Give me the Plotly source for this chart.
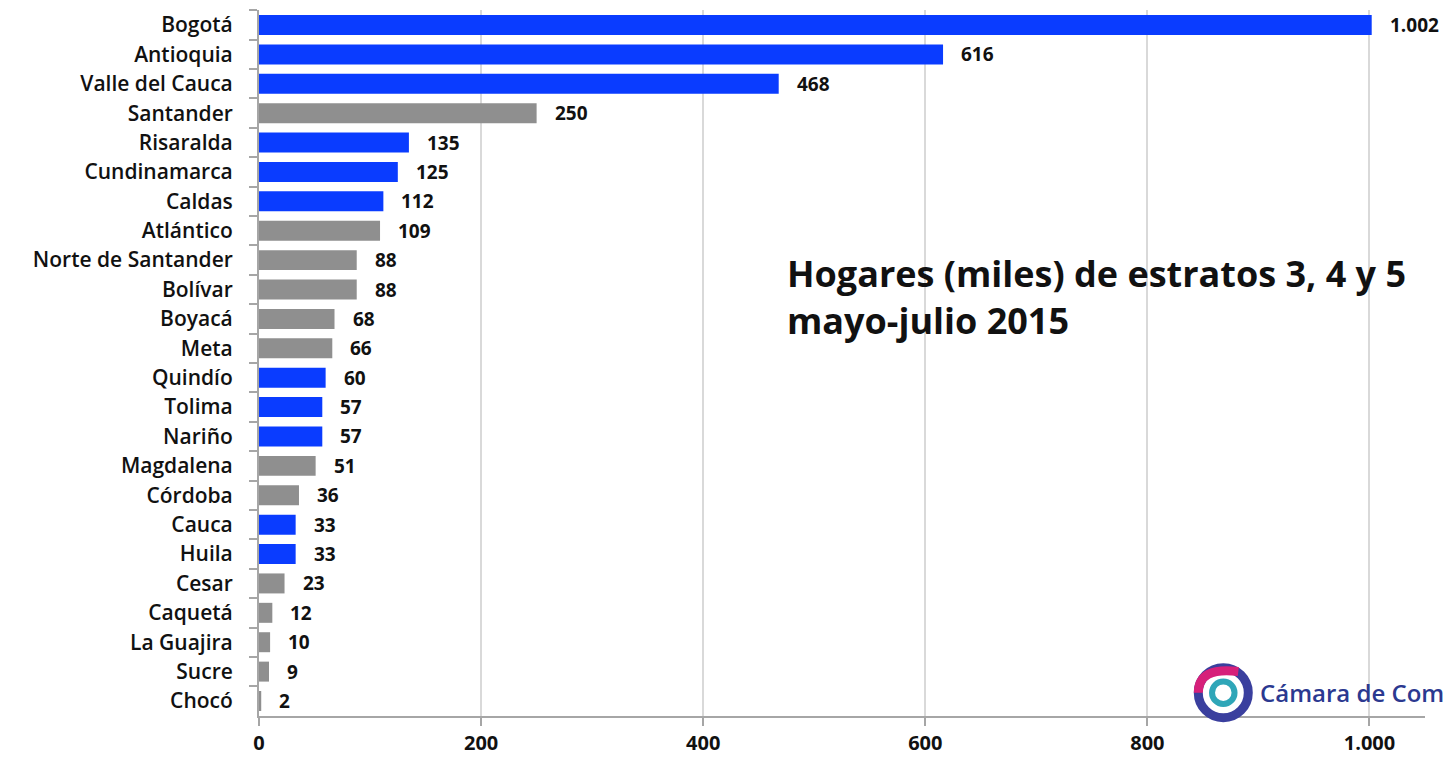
import plotly.graph_objects as go

# Hogares (miles) de estratos 3, 4 y 5 por departamento, mayo-julio 2015
departamentos = ["Bogotá", "Antioquia", "Valle del Cauca", "Santander", "Risaralda",
                 "Cundinamarca", "Caldas", "Atlántico", "Norte de Santander", "Bolívar",
                 "Boyacá", "Meta", "Quindío", "Tolima", "Nariño", "Magdalena", "Córdoba",
                 "Cauca", "Huila", "Cesar", "Caquetá", "La Guajira", "Sucre", "Chocó"]
hogares = [1002, 616, 468, 250, 135, 125, 112, 109, 88, 88, 68, 66, 60, 57, 57,
           51, 36, 33, 33, 23, 12, 10, 9, 2]
destacado = [1, 1, 1, 0, 1, 1, 1, 0, 0, 0, 0, 0, 1, 1, 1, 0, 0, 1, 1, 0, 0, 0, 0, 0]
x_ticks = [0, 200, 400, 600, 800, 1000]

AZUL = "#0a3cff"
GRIS = "#8f8f8f"
FONT = "Open Sans"

colores = [AZUL if d else GRIS for d in destacado]

fig = go.Figure()
fig.add_trace(go.Bar(
    x=hogares,
    y=departamentos,
    orientation="h",
    marker=dict(color=colores, line=dict(width=0)),
    width=0.68,
    hoverinfo="x+y",
))

# etiquetas de valor a la derecha de cada barra
for d, v in zip(departamentos, hogares):
    fig.add_annotation(
        x=v, y=d, xref="x", yref="y",
        text="{:,}".format(v).replace(",", "."),
        showarrow=False, xanchor="left", yanchor="middle", xshift=16,
        font=dict(family=FONT, size=19, color="#111111", weight="bold"),
    )

# titulo dentro del grafico
fig.add_annotation(
    x=0.451, y=0.665, xref="paper", yref="paper",
    text="Hogares (miles) de estratos 3, 4 y 5<br>mayo-julio 2015",
    showarrow=False, xanchor="left", yanchor="top", align="left",
    font=dict(family=FONT, size=36, color="#111111", weight="bold"),
)

# logo aproximado
cx, cy = 0.827, 0.033
rx, ry = 25 / 1166, 25 / 706
fig.add_shape(type="circle", xref="paper", yref="paper",
              x0=cx - rx, x1=cx + rx, y0=cy - ry, y1=cy + ry,
              line=dict(color="#3a3f9e", width=9))
fig.add_shape(type="path", xref="paper", yref="paper",
              path="M {:.4f} {:.4f} Q {:.4f} {:.4f} {:.4f} {:.4f}".format(
                  cx - rx, cy, cx - rx, cy + ry * 1.05, cx + rx * 0.6, cy + ry * 0.85),
              line=dict(color="#d6207a", width=9))
fig.add_shape(type="circle", xref="paper", yref="paper",
              x0=cx - rx * 0.45, x1=cx + rx * 0.45, y0=cy - ry * 0.45, y1=cy + ry * 0.45,
              line=dict(color="#2fa6b8", width=6))
fig.add_annotation(
    x=0.857, y=cy, xref="paper", yref="paper",
    text="Cámara de Com", showarrow=False, xanchor="left", yanchor="middle",
    font=dict(family=FONT, size=24, color="#2b3990", weight=600),
)

fig.update_layout(
    width=1449, height=759,
    margin=dict(l=259, r=24, t=10, b=43),
    paper_bgcolor="white", plot_bgcolor="white",
    separators=",.",
    showlegend=False,
    bargap=0.32,
    font=dict(family=FONT, size=20, color="#111111"),
)
fig.update_xaxes(
    range=[0, 1050], tickvals=x_ticks, tickformat=",d",
    showgrid=True, gridcolor="#d9d9d9", gridwidth=1.5,
    showline=True, linecolor="#a6a6a6", linewidth=2,
    ticks="outside", ticklen=8, tickcolor="#a6a6a6", tickwidth=2,
    tickfont=dict(family=FONT, size=20, color="#111111", weight="bold"),
    zeroline=False, automargin=False,
)
fig.update_yaxes(
    autorange="reversed", categoryorder="array", categoryarray=departamentos,
    showline=True, linecolor="#a6a6a6", linewidth=2,
    ticks="outside", ticklen=8, tickcolor="#a6a6a6", tickwidth=2,
    tickson="boundaries",
    tickfont=dict(family=FONT, size=21, color="#111111", weight=600),
    ticklabelstandoff=20, automargin=False,
)

fig.write_html("out.html", config=dict(displayModeBar=False),
               post_script="document.body.style.margin='0';")
